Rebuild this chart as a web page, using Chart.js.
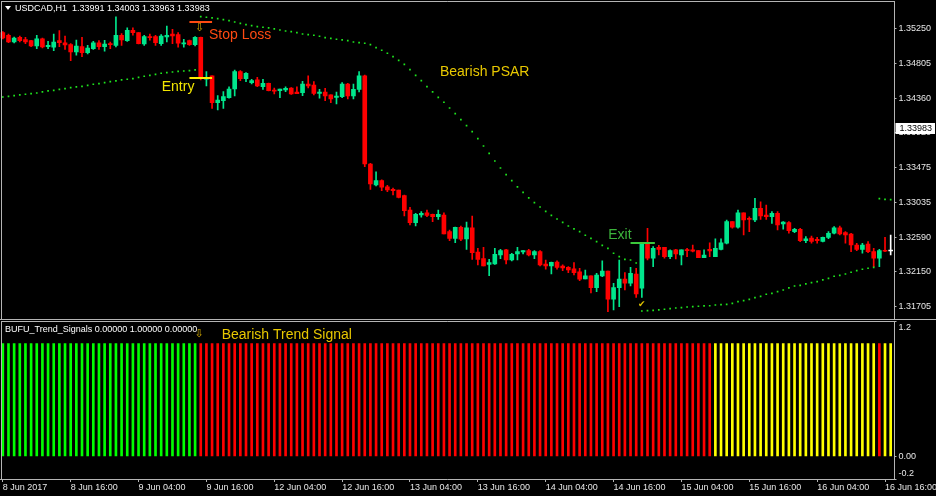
<!DOCTYPE html>
<html>
<head>
<meta charset="utf-8">
<script src="https://cdn.jsdelivr.net/npm/chart.js@4.4.1/dist/chart.umd.min.js"></script>
<style>
  html, body { margin: 0; padding: 0; background: #000; }
  #wrap { position: relative; width: 936px; height: 496px; overflow: hidden; background: #000; }
  canvas { position: absolute; left: 0; top: 0; }
</style>
</head>
<body>
<div id="wrap">
  <canvas id="priceChart" width="936" height="496"></canvas>
  <canvas id="signalChart" width="936" height="496"></canvas>
</div>
<script>
// USDCAD H1, one entry per bar, first bar 8 Jun 2017 04:00
const opens = [
  1.35196, 1.35161, 1.35075, 1.35135, 1.35105, 1.35092, 1.35024, 1.35117, 1.35016, 1.35008,
  1.35092, 1.35066, 1.35041, 1.34948, 1.35016, 1.34939, 1.34990, 1.35063, 1.35016, 1.35054,
  1.35033, 1.35161, 1.35092, 1.35224, 1.35194, 1.35050, 1.35139, 1.35143, 1.35054, 1.35139,
  1.35177, 1.35168, 1.35050, 1.35092, 1.35041, 1.35133, 1.34601, 1.34643, 1.34303, 1.34328,
  1.34366, 1.34477, 1.34697, 1.34608, 1.34557, 1.34592, 1.34506, 1.34550, 1.34464, 1.34455,
  1.34464, 1.34490, 1.34439, 1.34430, 1.34541, 1.34528, 1.34422, 1.34439, 1.34401, 1.34371,
  1.34379, 1.34541, 1.34388, 1.34473, 1.34643, 1.33522, 1.33255, 1.33310, 1.33233, 1.33200,
  1.33191, 1.33119, 1.32937, 1.32775, 1.32873, 1.32902, 1.32882, 1.32851, 1.32873, 1.32661,
  1.32576, 1.32717, 1.32568, 1.32708, 1.32402, 1.32317, 1.32245, 1.32249, 1.32364, 1.32428,
  1.32300, 1.32377, 1.32402, 1.32419, 1.32364, 1.32406, 1.32249, 1.32224, 1.32275, 1.32224,
  1.32207, 1.32189, 1.32151, 1.32058, 1.32100, 1.31948, 1.32097, 1.32160, 1.31800, 1.31948,
  1.32058, 1.32004, 1.32122, 1.31940, 1.32513, 1.32322, 1.32462, 1.32462, 1.32342, 1.32428,
  1.32364, 1.32428, 1.32428, 1.32419, 1.32330, 1.32436, 1.32342, 1.32436, 1.32513, 1.32788,
  1.32717, 1.32902, 1.32831, 1.32809, 1.32958, 1.32873, 1.32851, 1.32895, 1.32759, 1.32775,
  1.32661, 1.32691, 1.32546, 1.32580, 1.32564, 1.32538, 1.32589, 1.32640, 1.32708, 1.32648,
  1.32631, 1.32491, 1.32436, 1.32504, 1.32406, 1.32322, 1.32419, 1.32424
];
const highs = [
  1.35209, 1.35177, 1.35139, 1.35152, 1.35135, 1.35097, 1.35161, 1.35126, 1.35084, 1.35177,
  1.35219, 1.35152, 1.35054, 1.35101, 1.35135, 1.35033, 1.35084, 1.35092, 1.35097, 1.35075,
  1.35394, 1.35181, 1.35254, 1.35254, 1.35194, 1.35161, 1.35177, 1.35161, 1.35168, 1.35279,
  1.35237, 1.35194, 1.35110, 1.35101, 1.35143, 1.35139, 1.34697, 1.34643, 1.34392, 1.34443,
  1.34506, 1.34719, 1.34710, 1.34685, 1.34601, 1.34626, 1.34601, 1.34553, 1.34490, 1.34477,
  1.34506, 1.34496, 1.34506, 1.34575, 1.34643, 1.34570, 1.34473, 1.34486, 1.34401, 1.34439,
  1.34557, 1.34550, 1.34541, 1.34697, 1.34655, 1.33531, 1.33424, 1.33319, 1.33251, 1.33217,
  1.33191, 1.33128, 1.32971, 1.32895, 1.32915, 1.32937, 1.32886, 1.32937, 1.32902, 1.32682,
  1.32720, 1.32733, 1.32784, 1.32860, 1.32449, 1.32462, 1.32309, 1.32449, 1.32436, 1.32436,
  1.32386, 1.32462, 1.32419, 1.32436, 1.32419, 1.32419, 1.32300, 1.32275, 1.32291, 1.32237,
  1.32215, 1.32266, 1.32195, 1.32173, 1.32100, 1.32131, 1.32288, 1.32160, 1.32004, 1.32300,
  1.32139, 1.32207, 1.32195, 1.32513, 1.32704, 1.32470, 1.32487, 1.32462, 1.32428, 1.32436,
  1.32428, 1.32449, 1.32491, 1.32419, 1.32428, 1.32520, 1.32568, 1.32568, 1.32809, 1.32788,
  1.32937, 1.32902, 1.32851, 1.33086, 1.33042, 1.33000, 1.32915, 1.32915, 1.32788, 1.32788,
  1.32704, 1.32704, 1.32597, 1.32606, 1.32589, 1.32593, 1.32661, 1.32724, 1.32733, 1.32661,
  1.32640, 1.32513, 1.32513, 1.32533, 1.32449, 1.32436, 1.32589, 1.32618
];
const lows = [
  1.35114, 1.35066, 1.35063, 1.35075, 1.35054, 1.35016, 1.34990, 1.34999, 1.34990, 1.34965,
  1.35016, 1.34982, 1.34837, 1.34906, 1.34888, 1.34923, 1.34982, 1.34982, 1.34957, 1.34990,
  1.35012, 1.35033, 1.35084, 1.35161, 1.35050, 1.35033, 1.35097, 1.35033, 1.35033, 1.35075,
  1.35054, 1.35008, 1.35008, 1.35033, 1.35024, 1.34592, 1.34515, 1.34231, 1.34210, 1.34231,
  1.34359, 1.34388, 1.34583, 1.34570, 1.34541, 1.34506, 1.34473, 1.34452, 1.34413, 1.34366,
  1.34443, 1.34407, 1.34417, 1.34392, 1.34490, 1.34401, 1.34359, 1.34328, 1.34303, 1.34286,
  1.34366, 1.34350, 1.34350, 1.34439, 1.33488, 1.33200, 1.33242, 1.33182, 1.33170, 1.33128,
  1.33090, 1.32860, 1.32746, 1.32733, 1.32844, 1.32851, 1.32788, 1.32818, 1.32631, 1.32546,
  1.32520, 1.32546, 1.32436, 1.32309, 1.32237, 1.32224, 1.32100, 1.32243, 1.32317, 1.32249,
  1.32288, 1.32300, 1.32377, 1.32351, 1.32317, 1.32224, 1.32182, 1.32122, 1.32182, 1.32164,
  1.32139, 1.32109, 1.32037, 1.32058, 1.31880, 1.31897, 1.32088, 1.31642, 1.31664, 1.31706,
  1.31918, 1.31969, 1.31825, 1.31825, 1.32300, 1.32215, 1.32364, 1.32322, 1.32317, 1.32313,
  1.32237, 1.32342, 1.32402, 1.32330, 1.32330, 1.32342, 1.32342, 1.32428, 1.32504, 1.32704,
  1.32704, 1.32618, 1.32661, 1.32788, 1.32818, 1.32818, 1.32767, 1.32682, 1.32691, 1.32640,
  1.32648, 1.32533, 1.32520, 1.32513, 1.32513, 1.32529, 1.32571, 1.32631, 1.32618, 1.32513,
  1.32406, 1.32419, 1.32386, 1.32393, 1.32215, 1.32215, 1.32406, 1.32364
];
const closes = [
  1.35126, 1.35075, 1.35126, 1.35092, 1.35075, 1.35024, 1.35117, 1.35012, 1.35033, 1.35075,
  1.35066, 1.35037, 1.34948, 1.35024, 1.34939, 1.34999, 1.35063, 1.35016, 1.35050, 1.35041,
  1.35161, 1.35101, 1.35224, 1.35194, 1.35054, 1.35143, 1.35130, 1.35066, 1.35152, 1.35161,
  1.35152, 1.35059, 1.35066, 1.35041, 1.35135, 1.34617, 1.34626, 1.34303, 1.34337, 1.34379,
  1.34477, 1.34697, 1.34608, 1.34677, 1.34583, 1.34515, 1.34550, 1.34455, 1.34448, 1.34477,
  1.34486, 1.34413, 1.34417, 1.34541, 1.34515, 1.34422, 1.34439, 1.34388, 1.34350, 1.34388,
  1.34541, 1.34388, 1.34473, 1.34643, 1.33522, 1.33268, 1.33310, 1.33226, 1.33191, 1.33182,
  1.33098, 1.32928, 1.32775, 1.32882, 1.32895, 1.32869, 1.32851, 1.32882, 1.32631, 1.32576,
  1.32717, 1.32564, 1.32708, 1.32393, 1.32309, 1.32224, 1.32266, 1.32373, 1.32419, 1.32300,
  1.32373, 1.32406, 1.32419, 1.32364, 1.32406, 1.32237, 1.32224, 1.32271, 1.32207, 1.32198,
  1.32173, 1.32139, 1.32055, 1.32100, 1.31948, 1.32109, 1.32160, 1.31800, 1.31948, 1.32058,
  1.32004, 1.32131, 1.31867, 1.32513, 1.32322, 1.32449, 1.32436, 1.32342, 1.32419, 1.32377,
  1.32428, 1.32419, 1.32411, 1.32330, 1.32364, 1.32415, 1.32449, 1.32520, 1.32788, 1.32717,
  1.32902, 1.32809, 1.32818, 1.32958, 1.32860, 1.32851, 1.32895, 1.32746, 1.32784, 1.32673,
  1.32691, 1.32546, 1.32571, 1.32538, 1.32546, 1.32589, 1.32640, 1.32708, 1.32631, 1.32618,
  1.32491, 1.32436, 1.32491, 1.32406, 1.32322, 1.32419, 1.32411, 1.32415
];
// Parabolic SAR, one dot per bar
const psar = [
  1.34375, 1.34384, 1.34392, 1.34401, 1.34410, 1.34417, 1.34426, 1.34439, 1.34452, 1.34460,
  1.34473, 1.34481, 1.34494, 1.34503, 1.34511, 1.34524, 1.34537, 1.34545, 1.34557, 1.34570,
  1.34579, 1.34592, 1.34601, 1.34608, 1.34626, 1.34639, 1.34651, 1.34664, 1.34677, 1.34685,
  1.34693, 1.34702, 1.34706, 1.34710, 1.34719, 1.35397, 1.35390, 1.35381, 1.35372, 1.35359,
  1.35346, 1.35330, 1.35313, 1.35296, 1.35283, 1.35270, 1.35263, 1.35254, 1.35241, 1.35228,
  1.35215, 1.35207, 1.35194, 1.35177, 1.35168, 1.35161, 1.35148, 1.35130, 1.35122, 1.35110,
  1.35101, 1.35092, 1.35075, 1.35066, 1.35059, 1.35041, 1.35003, 1.34970, 1.34932, 1.34888,
  1.34842, 1.34791, 1.34723, 1.34651, 1.34583, 1.34506, 1.34439, 1.34371, 1.34308, 1.34235,
  1.34163, 1.34086, 1.34010, 1.33933, 1.33844, 1.33751, 1.33658, 1.33560, 1.33471, 1.33386,
  1.33310, 1.33230, 1.33162, 1.33090, 1.33030, 1.32975, 1.32920, 1.32869, 1.32822, 1.32780,
  1.32733, 1.32695, 1.32661, 1.32615, 1.32576, 1.32533, 1.32487, 1.32449, 1.32386, 1.32342,
  1.32309, 1.32300, 1.32262, 1.31651, 1.31655, 1.31660, 1.31664, 1.31673, 1.31680, 1.31689,
  1.31693, 1.31702, 1.31706, 1.31711, 1.31715, 1.31718, 1.31727, 1.31731, 1.31736, 1.31749,
  1.31769, 1.31782, 1.31800, 1.31820, 1.31838, 1.31864, 1.31876, 1.31897, 1.31918, 1.31944,
  1.31969, 1.31978, 1.31995, 1.32011, 1.32024, 1.32046, 1.32067, 1.32093, 1.32105, 1.32122,
  1.32144, 1.32164, 1.32182, 1.32195, 1.32207, 1.33081, 1.33073, 1.33068
];
// BUFU_Trend_Signals state per bar: G up, R down, Y flat
const trend =
  'GGGGGGGGGG' + 'GGGGGGGGGG' + 'GGGGGGGGGG' + 'GGGGG' +
  'RRRRRRRRRR' + 'RRRRRRRRRR' + 'RRRRRRRRRR' + 'RRRRRRRRRR' + 'RRRRRRRRRR' +
  'RRRRRRRRRR' + 'RRRRRRRRRR' + 'RRRRRRRRRR' + 'RRRRRRRRRR' + 'R' +
  'YYYYYYYYYY' + 'YYYYYYYYYY' + 'YYYYYYYYY' +
  'RYY';

const timeTickBars = [0, 12, 24, 36, 48, 60, 72, 84, 96, 108, 120, 132, 144, 156];
const timeTickLabels = ['8 Jun 2017', '8 Jun 16:00', '9 Jun 04:00', '9 Jun 16:00', '12 Jun 04:00',
  '12 Jun 16:00', '13 Jun 04:00', '13 Jun 16:00', '14 Jun 04:00', '14 Jun 16:00',
  '15 Jun 04:00', '15 Jun 16:00', '16 Jun 04:00', '16 Jun 16:00'];
const priceTicks = [1.35250, 1.34805, 1.34360, 1.33920, 1.33475, 1.33035, 1.32590, 1.32150, 1.31705];
const signalTicks = [1.2, 0, -0.2];
const lastQuote = 1.33983;
const header = 'USDCAD,H1  1.33991 1.34003 1.33963 1.33983';
const signalHeader = 'BUFU_Trend_Signals 0.00000 1.00000 0.00000';

// trade markers drawn on the price panel
const levels = [
  { price: 1.35330, from: 33, to: 37, color: '#ff4a12' },
  { price: 1.34617, from: 33, to: 37, color: '#ffee00' },
  { price: 1.32513, from: 111, to: 115.3, color: '#3cc83c' }
];
const notes = [
  { text: 'Stop Loss', bar: 36.45, price: 1.35110, color: '#ff4a12' },
  { text: 'Entry', bar: 28.1, price: 1.34455, color: '#f2e600' },
  { text: 'Bearish PSAR', bar: 77.3, price: 1.34646, color: '#e8c800' },
  { text: 'Exit', bar: 107.05, price: 1.32564, color: '#3cb43c' }
];

const frameColor = '#b4b4b4';
const tickColor = '#e6e6e6';
const upColor = '#00e68c';
const downColor = '#ff0000';
const liveColor = '#ffffff';
const psarColor = '#1ee61e';
const signalColors = { G: '#00ff00', R: '#ff0000', Y: '#ffff00' };
const axisFont = { family: 'Liberation Sans', size: 9 };
const axisWidth = 42.5;

const n = closes.length;
const bars = closes.map((c, i) => i);
const candleColors = closes.map((c, i) => i === n - 1 ? liveColor : (c >= opens[i] ? upColor : downColor));

function line(ctx, x1, y1, x2, y2, color, width) {
  ctx.save();
  ctx.strokeStyle = color;
  ctx.lineWidth = width || 1;
  ctx.beginPath();
  ctx.moveTo(x1, y1);
  ctx.lineTo(x2, y2);
  ctx.stroke();
  ctx.restore();
}

function label(ctx, str, x, y, font, color, align, baseline) {
  ctx.save();
  ctx.font = font;
  ctx.fillStyle = color;
  ctx.textAlign = align || 'left';
  ctx.textBaseline = baseline || 'alphabetic';
  ctx.fillText(str, x, y);
  ctx.restore();
}

function fixWidth(s) {
  s.width = axisWidth;
  s.paddingTop = 0; s.paddingBottom = 0; s.paddingLeft = 0; s.paddingRight = 0;
}

const priceOverlay = {
  id: 'priceOverlay',
  afterDraw(chart) {
    const { ctx, chartArea: a } = chart;
    const x = chart.scales.x, y = chart.scales.y;
    const r = Math.round(a.right) + 0.5;
    line(ctx, 1, a.top + 0.5, r, a.top + 0.5, frameColor);
    line(ctx, 1.5, a.top, 1.5, a.bottom, frameColor);
    line(ctx, 0, a.bottom + 0.5, chart.width, a.bottom + 0.5, frameColor);
    line(ctx, r, a.top, r, a.bottom, frameColor);

    levels.forEach(l => {
      const py = Math.round(y.getPixelForValue(l.price));
      line(ctx, x.getPixelForValue(l.from), py, x.getPixelForValue(l.to), py, l.color, 2);
    });
    notes.forEach(t => {
      label(ctx, t.text, x.getPixelForValue(t.bar), y.getPixelForValue(t.price),
        '14px "Liberation Sans"', t.color);
    });
    label(ctx, '\u21E9', x.getPixelForValue(34.8), y.getPixelForValue(1.35247),
      '11px "DejaVu Sans"', '#d4aa00', 'center', 'middle');
    label(ctx, '\u2714', x.getPixelForValue(113), y.getPixelForValue(1.31727),
      '9px "DejaVu Sans"', '#e0c400', 'center', 'middle');

    // window caption
    ctx.save();
    ctx.fillStyle = '#ffffff';
    ctx.beginPath();
    ctx.moveTo(5, 6); ctx.lineTo(11, 6); ctx.lineTo(8, 10); ctx.closePath();
    ctx.fill();
    ctx.restore();
    label(ctx, header, 15, 8.5, '9px "Liberation Sans"', '#ffffff', 'left', 'middle');

    // current price tag
    const qy = Math.round(y.getPixelForValue(lastQuote));
    ctx.save();
    ctx.fillStyle = '#ffffff';
    ctx.fillRect(r + 1, qy - 5, chart.width - r - 2, 11);
    ctx.restore();
    label(ctx, lastQuote.toFixed(5), r + 5, qy + 0.5, '9px "Liberation Sans"', '#000000', 'left', 'middle');
  }
};

new Chart(document.getElementById('priceChart'), {
  type: 'bar',
  data: {
    labels: bars,
    datasets: [
      {
        type: 'line',
        data: psar,
        showLine: false,
        pointStyle: 'rect',
        pointRadius: 1.2,
        pointBorderWidth: 0,
        pointBackgroundColor: psarColor,
        order: 0
      },
      {
        data: bars.map(i => [opens[i], closes[i]]),
        backgroundColor: candleColors,
        barThickness: 4,
        minBarLength: 1,
        grouped: false,
        order: 1
      },
      {
        data: bars.map(i => [lows[i], highs[i]]),
        backgroundColor: candleColors,
        barThickness: 1,
        grouped: false,
        order: 2
      }
    ]
  },
  options: {
    responsive: false,
    animation: false,
    devicePixelRatio: 1,
    layout: { autoPadding: false, padding: { left: 0, right: 0, top: 1, bottom: 177 } },
    plugins: { legend: { display: false }, tooltip: { enabled: false } },
    scales: {
      x: { display: false, offset: true },
      y: {
        position: 'right',
        min: 1.31549,
        max: 1.35597,
        afterBuildTicks: s => { s.ticks = priceTicks.map(v => ({ value: v })); },
        afterFit: fixWidth,
        border: { display: false },
        grid: { drawOnChartArea: false, color: frameColor, tickLength: 3 },
        ticks: { color: tickColor, font: axisFont, padding: 2, autoSkip: false, callback: v => v.toFixed(5) }
      }
    }
  },
  plugins: [priceOverlay]
});

const signalOverlay = {
  id: 'signalOverlay',
  afterDraw(chart) {
    const { ctx, chartArea: a } = chart;
    const x = chart.scales.x, y = chart.scales.y;
    const r = Math.round(a.right) + 0.5;
    line(ctx, 1, a.top + 0.5, r, a.top + 0.5, frameColor);
    line(ctx, 1.5, a.top, 1.5, a.bottom, frameColor);
    line(ctx, 0, a.bottom + 0.5, r, a.bottom + 0.5, frameColor);
    line(ctx, r, a.top, r, a.bottom + 1, frameColor);

    label(ctx, signalHeader, 5, a.top + 9, '9px "Liberation Sans"', '#ffffff', 'left', 'middle');
    label(ctx, '\u21E9', x.getPixelForValue(34.7), y.getPixelForValue(1.08),
      '11px "DejaVu Sans"', '#d4aa00', 'center', 'middle');
    label(ctx, 'Bearish Trend Signal', x.getPixelForValue(38.7), y.getPixelForValue(1.04),
      '14px "Liberation Sans"', '#e8c800');

    const f = '9px "Liberation Sans"';
    label(ctx, '1.2', r + 4, y.getPixelForValue(1.2) + 7, f, tickColor, 'left', 'middle');
    label(ctx, '0.00', r + 4, y.getPixelForValue(0), f, tickColor, 'left', 'middle');
    label(ctx, '-0.2', r + 4, y.getPixelForValue(-0.2) - 5, f, tickColor, 'left', 'middle');
  }
};

new Chart(document.getElementById('signalChart'), {
  type: 'bar',
  data: {
    labels: bars,
    datasets: ['G', 'R', 'Y'].map(k => ({
      data: trend.split('').map(t => t === k ? 1 : null),
      backgroundColor: signalColors[k],
      barThickness: 2,
      grouped: false
    }))
  },
  options: {
    responsive: false,
    animation: false,
    devicePixelRatio: 1,
    layout: { autoPadding: false, padding: { left: 0, right: 0, top: 321, bottom: 0 } },
    plugins: { legend: { display: false }, tooltip: { enabled: false } },
    scales: {
      x: {
        offset: true,
        afterBuildTicks: s => { s.ticks = timeTickBars.map(v => ({ value: v })); },
        afterFit: s => {
          s.height = 17;
          s.paddingLeft = 0; s.paddingRight = 0;
        },
        border: { display: false },
        grid: { drawOnChartArea: false, offset: false, color: frameColor, tickLength: 3 },
        ticks: {
          color: tickColor, font: axisFont, padding: 0, align: 'start',
          maxRotation: 0, autoSkip: false,
          callback: v => timeTickLabels[timeTickBars.indexOf(v)]
        }
      },
      y: {
        position: 'right',
        min: -0.2,
        max: 1.2,
        afterBuildTicks: s => { s.ticks = signalTicks.map(v => ({ value: v })); },
        afterFit: fixWidth,
        border: { display: false },
        grid: { drawOnChartArea: false, color: frameColor, tickLength: 3 },
        ticks: { display: false }
      }
    }
  },
  plugins: [signalOverlay]
});
</script>
</body>
</html>
